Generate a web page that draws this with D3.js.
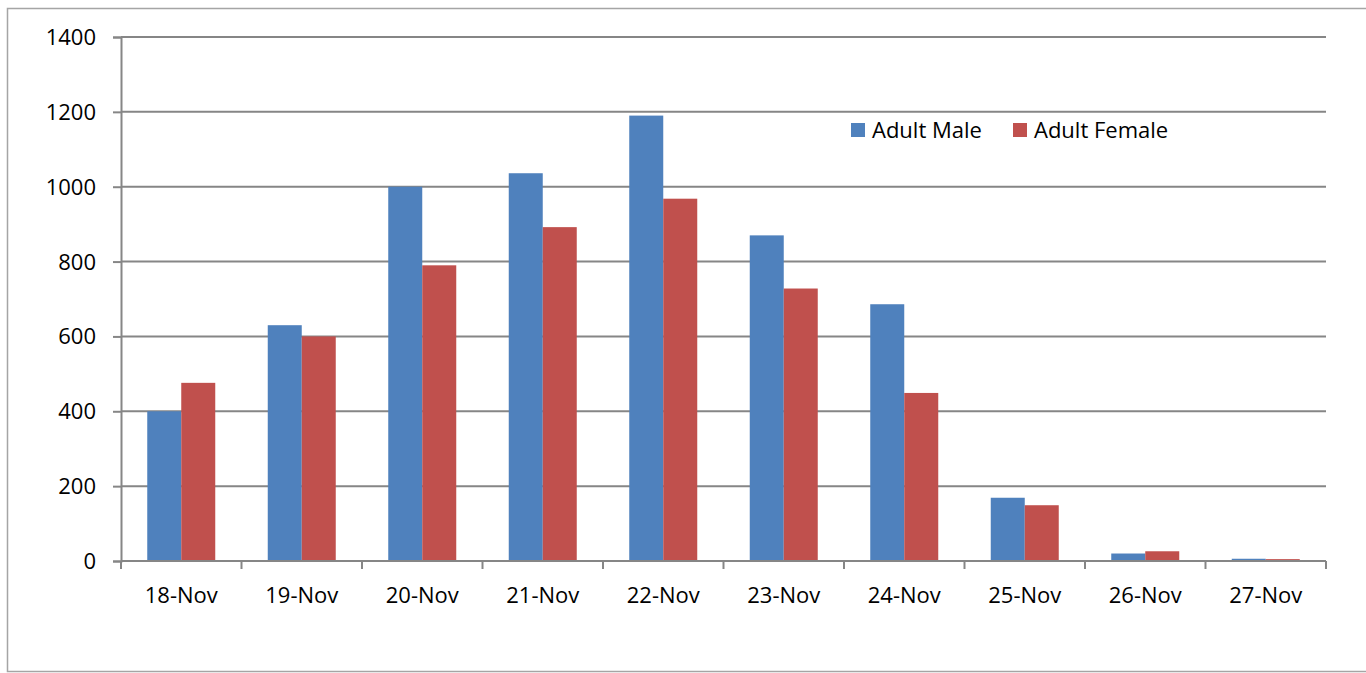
<!DOCTYPE html>
<html>
<head>
<meta charset="utf-8">
<script src="https://cdn.jsdelivr.net/npm/d3@7"></script>
<style>
  html, body { margin: 0; padding: 0; background: #fff; }
  svg { display: block; }
  text { font-family: "Open Sans", sans-serif; fill: #000; }
</style>
</head>
<body>
<svg id="chart" width="1366" height="673"></svg>
<script>
const categories = ["18-Nov","19-Nov","20-Nov","21-Nov","22-Nov","23-Nov","24-Nov","25-Nov","26-Nov","27-Nov"];
const adultMale   = [400, 630, 1000, 1036, 1190, 870, 686, 169, 20, 6];
const adultFemale = [476, 600, 790, 892, 968, 728, 449, 149, 26, 5];
const seriesNames = ["Adult Male", "Adult Female"];
const seriesColors = ["#4F81BD", "#C0504D"];
const yTicks = [0, 200, 400, 600, 800, 1000, 1200, 1400];

const svg = d3.select("#chart");
const plotLeft = 121, plotRight = 1326, plotTop = 37, plotBottom = 561;

// outer frame
svg.append("rect")
  .attr("x", 7.5).attr("y", 8.5)
  .attr("width", 1370).attr("height", 663)
  .attr("fill", "none").attr("stroke", "#a5a5a5").attr("stroke-width", 1.5);

const x0 = d3.scaleBand().domain(categories).range([plotLeft, plotRight]).padding(0);
const x1 = d3.scaleBand().domain(seriesNames).range([0, x0.bandwidth()])
  .paddingInner(0).paddingOuter(0.772);
const y = d3.scaleLinear().domain([0, 1400]).range([plotBottom, plotTop]);

const gridColor = "#868686";

// gridlines
svg.append("g").selectAll("line").data(yTicks.filter(d => d > 0)).join("line")
  .attr("x1", plotLeft).attr("x2", plotRight)
  .attr("y1", d => y(d)).attr("y2", d => y(d))
  .attr("stroke", gridColor).attr("stroke-width", 2);

// y axis
const yAxis = svg.append("g").attr("transform", `translate(${plotLeft},0)`)
  .call(d3.axisLeft(y).tickValues(yTicks).tickSize(8).tickPadding(17).tickFormat(d3.format("d")));
yAxis.select(".domain").attr("stroke", gridColor).attr("stroke-width", 2);
yAxis.selectAll(".tick line").attr("stroke", gridColor).attr("stroke-width", 2);
yAxis.selectAll(".tick text").style("font-family", "'Open Sans', sans-serif")
  .style("font-size", "22px").attr("fill", "#000").attr("dy", "0.34em");

// bars
const data = categories.map((c, i) => ({ cat: c, vals: [adultMale[i], adultFemale[i]] }));
const groups = svg.append("g").selectAll("g").data(data).join("g")
  .attr("transform", d => `translate(${x0(d.cat)},0)`);
groups.selectAll("rect").data(d => d.vals.map((v, j) => ({ name: seriesNames[j], v, j })))
  .join("rect")
  .attr("x", d => x1(d.name))
  .attr("width", x1.bandwidth())
  .attr("y", d => y(d.v))
  .attr("height", d => y(0) - y(d.v))
  .attr("fill", d => seriesColors[d.j]);

// x axis
const xAxisG = svg.append("g").attr("transform", `translate(0,${plotBottom})`);
xAxisG.append("line").attr("x1", plotLeft).attr("x2", plotRight).attr("y1", 0).attr("y2", 0)
  .attr("stroke", gridColor).attr("stroke-width", 2);
const boundaries = categories.map(c => x0(c)).concat([x0(categories[categories.length - 1]) + x0.bandwidth()]);
xAxisG.selectAll("line.tk").data(boundaries).join("line").attr("class", "tk")
  .attr("x1", d => d).attr("x2", d => d).attr("y1", 0).attr("y2", 8)
  .attr("stroke", gridColor).attr("stroke-width", 2);
xAxisG.selectAll("text").data(categories).join("text")
  .attr("x", d => x0(d) + x0.bandwidth() / 2)
  .attr("y", 42)
  .attr("text-anchor", "middle")
  .style("font-size", "22px")
  .text(d => d);

// legend
const legendX = [851, 1013];
const legend = svg.append("g").selectAll("g").data(seriesNames).join("g")
  .attr("transform", (d, i) => `translate(${legendX[i]},123)`);
legend.append("rect").attr("width", 14).attr("height", 14)
  .attr("fill", (d, i) => seriesColors[i]);
legend.append("text").attr("x", 21).attr("y", 15)
  .style("font-size", "22px").text(d => d);
</script>
</body>
</html>
